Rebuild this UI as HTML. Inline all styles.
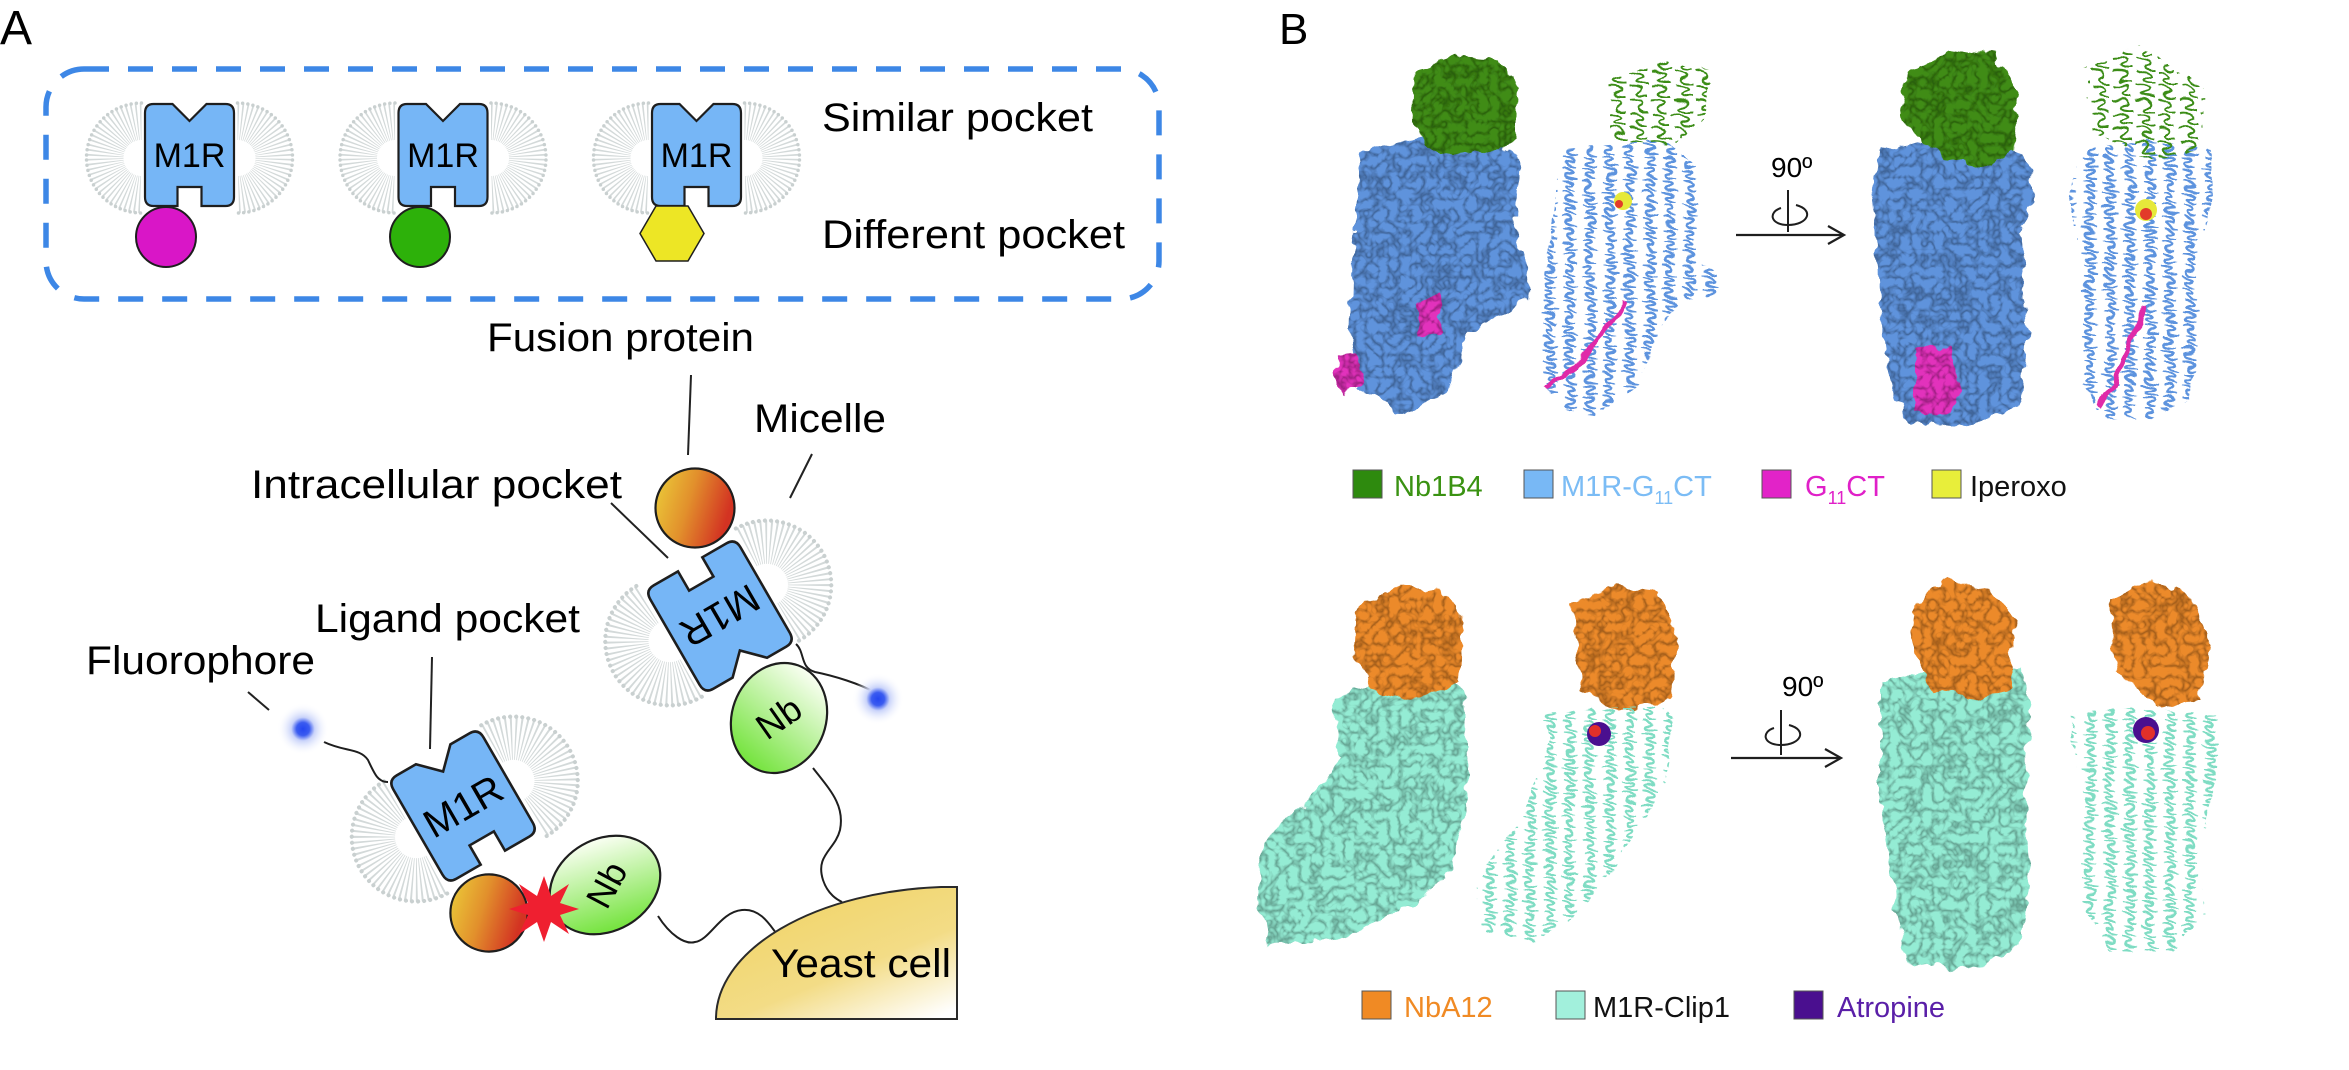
<!DOCTYPE html>
<html><head><meta charset="utf-8"><style>
html,body{margin:0;padding:0;background:#fff;}
svg{display:block;}
text{font-family:"Liberation Sans",Arial,sans-serif;}
</style></head><body>
<svg width="2349" height="1070" viewBox="0 0 2349 1070" xmlns="http://www.w3.org/2000/svg">
<defs>
  <linearGradient id="fus" x1="0" y1="0" x2="1" y2="0.3">
    <stop offset="0" stop-color="#ecd03a"/><stop offset="0.5" stop-color="#e2902c"/><stop offset="1" stop-color="#d33322"/>
  </linearGradient>
  <linearGradient id="nbg" x1="0.6" y1="0" x2="0.3" y2="1">
    <stop offset="0" stop-color="#fbfff4"/><stop offset="1" stop-color="#6fe236"/>
  </linearGradient>
  <linearGradient id="yst" x1="0.3" y1="0.2" x2="0.9" y2="1">
    <stop offset="0" stop-color="#f1d66f"/><stop offset="0.5" stop-color="#f3dc86"/><stop offset="1" stop-color="#ffffff"/>
  </linearGradient>
  <radialGradient id="glow">
    <stop offset="0" stop-color="#2446f0"/><stop offset="0.25" stop-color="#3b5cf0"/><stop offset="0.45" stop-color="#c9d3fa"/><stop offset="1" stop-color="#ffffff" stop-opacity="0"/>
  </radialGradient>
  <g id="mic">
    <path d="M-48,-33.5 A36.5 36.5 0 0 0 -48,39.5" fill="none" stroke="#d3d9d9" stroke-width="37" stroke-dasharray="1.2 2.2"/>
    <path d="M-48,-52 A55 55 0 0 0 -48,58" fill="none" stroke="#c9d0d0" stroke-width="3.5" stroke-linecap="round" stroke-dasharray="0 5.2"/>
    <path d="M48,-33.5 A36.5 36.5 0 0 1 48,39.5" fill="none" stroke="#d3d9d9" stroke-width="37" stroke-dasharray="1.2 2.2"/>
    <path d="M48,-52 A55 55 0 0 1 48,58" fill="none" stroke="#c9d0d0" stroke-width="3.5" stroke-linecap="round" stroke-dasharray="0 5.2"/>
  </g>
  <path id="m1r" d="M-36,-51 L-17,-51 L0,-34 L17,-51 L36,-51 Q44.5,-51 44.5,-42 L44.5,42 Q44.5,51 36,51 L12,51 L12,32 L-12,32 L-12,51 L-36,51 Q-44.5,51 -44.5,42 L-44.5,-42 Q-44.5,-51 -36,-51 Z" fill="#76b6f6" stroke="#1e1e1e" stroke-width="2.2"/>
  <filter id="rough" x="-10%" y="-10%" width="120%" height="120%">
    <feTurbulence type="fractalNoise" baseFrequency="0.07" numOctaves="2" seed="3" result="n"/>
    <feDisplacementMap in="SourceGraphic" in2="n" scale="14" xChannelSelector="R" yChannelSelector="G" result="d"/>
    <feTurbulence type="turbulence" baseFrequency="0.09" numOctaves="2" seed="7" result="t"/>
    <feColorMatrix in="t" type="matrix" values="0 0 0 0 0  0 0 0 0 0  0 0 0 0 0  0 0 0 -3 1.1" result="sp"/>
    <feComposite in="sp" in2="d" operator="in" result="sp2"/>
    <feComponentTransfer in="sp2" result="sp3"><feFuncA type="linear" slope="0.55"/></feComponentTransfer>
    <feMerge><feMergeNode in="d"/><feMergeNode in="sp3"/></feMerge>
  </filter>
  <filter id="rib" x="-10%" y="-10%" width="120%" height="120%">
    <feTurbulence type="fractalNoise" baseFrequency="0.05" numOctaves="2" seed="5" result="n"/>
    <feDisplacementMap in="SourceGraphic" in2="n" scale="10" xChannelSelector="R" yChannelSelector="G"/>
  </filter>
  <pattern id="coilB" width="20" height="12" patternUnits="userSpaceOnUse">
    <path d="M3,0 C15,2 16,6 10,6 C4,6 5,10 17,12" fill="none" stroke="#5d93de" stroke-width="2.6"/>
  </pattern>
  <pattern id="coilG" width="22" height="14" patternUnits="userSpaceOnUse">
    <path d="M2,2 C12,0 20,6 12,8 C5,10 10,14 20,13" fill="none" stroke="#3a8c16" stroke-width="2"/>
  </pattern>
  <pattern id="coilC" width="20" height="12" patternUnits="userSpaceOnUse">
    <path d="M3,0 C15,2 16,6 10,6 C4,6 5,10 17,12" fill="none" stroke="#7fdcc3" stroke-width="2.4"/>
  </pattern>
</defs>

<!-- PANEL A -->
<text x="0" y="44" font-size="48">A</text>
<rect x="46" y="69" width="1113" height="230" rx="38" fill="none" stroke="#3d87e6" stroke-width="5.5" stroke-dasharray="25 19"/>

<g transform="translate(189.5,155)"><use href="#mic"/><use href="#m1r"/><text x="0" y="12" font-size="34" text-anchor="middle">M1R</text></g>
<circle cx="166" cy="237" r="30" fill="#d916c7" stroke="#1e1e1e" stroke-width="2"/>
<g transform="translate(443,155)"><use href="#mic"/><use href="#m1r"/><text x="0" y="12" font-size="34" text-anchor="middle">M1R</text></g>
<circle cx="420" cy="237" r="30" fill="#2db10a" stroke="#1e1e1e" stroke-width="2"/>
<g transform="translate(696.5,155)"><use href="#mic"/><use href="#m1r"/><text x="0" y="12" font-size="34" text-anchor="middle">M1R</text></g>
<polygon points="640,233.5 656,206 688,206 704,233.5 688,261 656,261" fill="#ede625" stroke="#1e1e1e" stroke-width="1.5"/>

<text x="822" y="131" font-size="40" textLength="271" lengthAdjust="spacingAndGlyphs">Similar pocket</text>
<text x="822" y="248" font-size="40" textLength="303" lengthAdjust="spacingAndGlyphs">Different pocket</text>

<text x="487" y="351" font-size="40" textLength="267" lengthAdjust="spacingAndGlyphs">Fusion protein</text>
<line x1="691" y1="375" x2="688" y2="455" stroke="#222" stroke-width="2"/>
<text x="754" y="432" font-size="40" textLength="132" lengthAdjust="spacingAndGlyphs">Micelle</text>
<line x1="812" y1="454" x2="790" y2="498" stroke="#222" stroke-width="2"/>
<text x="251" y="498" font-size="40" textLength="371" lengthAdjust="spacingAndGlyphs">Intracellular pocket</text>
<line x1="611" y1="503" x2="668" y2="558" stroke="#222" stroke-width="2"/>
<text x="315" y="632" font-size="40" textLength="265" lengthAdjust="spacingAndGlyphs">Ligand pocket</text>
<line x1="432" y1="657" x2="430" y2="749" stroke="#222" stroke-width="2"/>
<text x="86" y="674" font-size="40" textLength="229" lengthAdjust="spacingAndGlyphs">Fluorophore</text>
<line x1="248" y1="692" x2="269" y2="710" stroke="#222" stroke-width="2"/>

<!-- top assembly -->
<g transform="translate(720,616) rotate(150) scale(1.17)"><use href="#mic"/></g>
<path d="M796,644 C805,652 800,668 815,672 C835,676 860,684 874,692" fill="none" stroke="#1e1e1e" stroke-width="2"/>
<path d="M813,768 C830,790 845,805 840,830 C835,850 815,855 823,880 C828,895 838,900 842,902" fill="none" stroke="#1e1e1e" stroke-width="2"/>
<circle cx="878" cy="699" r="26" fill="url(#glow)"/>
<g transform="translate(720,616) rotate(150) scale(1.17)"><use href="#m1r"/><text x="0" y="12" font-size="34" text-anchor="middle">M1R</text></g>
<circle cx="695" cy="508" r="39.5" fill="url(#fus)" stroke="#1e1e1e" stroke-width="2.2"/>
<g transform="translate(779,718) rotate(20)"><ellipse cx="0" cy="0" rx="47" ry="56" fill="url(#nbg)" stroke="#1e1e1e" stroke-width="2.2"/></g>
<text x="0" y="0" font-size="36" text-anchor="middle" transform="translate(779,718) rotate(-35) translate(0,12)">Nb</text>

<!-- bottom assembly -->
<g transform="translate(463,806) rotate(-30) scale(1.17)"><use href="#mic"/></g>
<path d="M324,742 C345,752 360,748 368,760 C375,775 378,782 388,782" fill="none" stroke="#1e1e1e" stroke-width="2"/>
<circle cx="303" cy="729" r="26" fill="url(#glow)"/>
<g transform="translate(463,806) rotate(-30) scale(1.17)"><use href="#m1r"/><text x="0" y="12" font-size="34" text-anchor="middle">M1R</text></g>
<path d="M658,916 C670,935 685,945 695,942 C710,940 720,912 742,910 C760,908 770,925 776,933" fill="none" stroke="#1e1e1e" stroke-width="2"/>
<circle cx="489" cy="913" r="38.6" fill="url(#fus)" stroke="#1e1e1e" stroke-width="2.2"/>
<g transform="translate(605,885) rotate(-30)"><ellipse cx="0" cy="0" rx="58" ry="46" fill="url(#nbg)" stroke="#1e1e1e" stroke-width="2.2"/></g>
<text x="0" y="0" font-size="36" text-anchor="middle" transform="translate(607,885) rotate(-62) translate(0,12)">Nb</text>
<polygon points="544,876 551,896 569,884 560,903 579,909 560,915 569,934 551,922 544,942 537,922 519,934 528,915 509,909 528,903 519,884 537,896" fill="#ef1f30"/>

<path d="M716,1019 A241 132 0 0 1 941,887 L957,887 L957,1019 Z" fill="url(#yst)" stroke="#2a2a2a" stroke-width="2"/>
<text x="771" y="977" font-size="40" textLength="180" lengthAdjust="spacingAndGlyphs">Yeast cell</text>

<!-- PANEL B -->
<text x="1279" y="44" font-size="44">B</text>

<!-- top row -->
<g filter="url(#rough)">
  <path d="M1362,150 L1420,138 L1500,140 L1520,160 L1515,230 L1530,280 L1528,300 L1490,320 L1465,340 L1450,390 L1420,405 L1395,416 L1380,395 L1360,390 L1350,330 L1352,260 L1358,200 Z" fill="#5e93dc"/>
  <path d="M1415,72 L1450,55 L1500,60 L1518,90 L1515,140 L1480,155 L1430,150 L1412,120 Z" fill="#3f8c19"/>
  <path d="M1338,355 L1358,352 L1362,385 L1345,395 L1335,380 Z M1418,300 L1440,295 L1442,330 L1420,338 Z" fill="#e231bc"/>
  <path d="M1880,150 L1930,140 L2010,142 L2030,170 L2035,200 L2020,230 L2028,330 L2020,400 L1990,420 L1940,427 L1905,420 L1890,380 L1880,300 L1872,200 Z" fill="#5e93dc"/>
  <path d="M1905,72 L1950,50 L1995,55 L2018,95 L2015,150 L1990,165 L1945,160 L1900,120 Z" fill="#3f8c19"/>
  <path d="M1915,350 L1950,345 L1960,395 L1940,418 L1915,410 Z" fill="#e231bc"/>
</g>
<g filter="url(#rib)">
  <path d="M1560,150 L1660,140 L1700,165 L1695,260 L1722,275 L1715,295 L1680,300 L1660,330 L1640,380 L1600,416 L1570,410 L1545,390 L1541,340 L1548,250 Z" fill="url(#coilB)"/>
  <path d="M1610,80 L1660,60 L1711,70 L1705,120 L1670,147 L1610,140 Z" fill="url(#coilG)"/>
  <path d="M1545,390 C1560,370 1575,380 1585,355 C1595,335 1610,330 1625,300" fill="none" stroke="#e02aa8" stroke-width="5"/>
  <path d="M2080,150 L2150,140 L2210,150 L2213,200 L2195,260 L2200,330 L2190,400 L2150,420 L2100,418 L2080,380 L2085,300 L2071,200 Z" fill="url(#coilB)"/>
  <path d="M2085,70 L2140,44 L2208,90 L2200,150 L2150,160 L2090,130 Z" fill="url(#coilG)"/>
  <path d="M2098,405 C2110,385 2120,380 2125,355 C2130,335 2140,330 2145,305" fill="none" stroke="#e02aa8" stroke-width="5"/>
</g>
<circle cx="1623" cy="201" r="9" fill="#e6e93a"/><circle cx="1619" cy="204" r="4" fill="#e23b2a"/>
<circle cx="2146" cy="210" r="11" fill="#e6e93a"/><circle cx="2146" cy="214" r="6" fill="#e23b2a"/>

<text x="1771" y="177" font-size="28">90º</text>
<line x1="1788" y1="190" x2="1788" y2="232" stroke="#1e1e1e" stroke-width="2"/>
<path d="M1796,205 C1815,210 1808,225 1788,225 C1770,225 1768,212 1781,208" fill="none" stroke="#1e1e1e" stroke-width="2"/>
<line x1="1736" y1="235" x2="1843" y2="235" stroke="#1e1e1e" stroke-width="2.2"/>
<path d="M1828,226 L1844,235 L1828,244" fill="none" stroke="#1e1e1e" stroke-width="2.2"/>

<rect x="1353" y="470" width="29" height="28" fill="#2e8a0e" stroke="#555" stroke-width="1"/>
<text x="1394" y="496" font-size="29" fill="#3a9212">Nb1B4</text>
<rect x="1524" y="470" width="29" height="28" fill="#78b8f5" stroke="#555" stroke-width="1"/>
<text x="1561" y="496" font-size="29" fill="#7bbcf5">M1R-G<tspan font-size="18" dy="8">11</tspan><tspan dy="-8">CT</tspan></text>
<rect x="1762" y="470" width="29" height="28" fill="#e223c8" stroke="#555" stroke-width="1"/>
<text x="1805" y="496" font-size="29" fill="#e020c8">G<tspan font-size="18" dy="8">11</tspan><tspan dy="-8">CT</tspan></text>
<rect x="1932" y="470" width="29" height="28" fill="#e8ee3a" stroke="#555" stroke-width="1"/>
<text x="1970" y="496" font-size="29" fill="#111">Iperoxo</text>

<!-- bottom row -->
<g filter="url(#rough)">
  <path d="M1380,680 L1440,670 L1465,690 L1467,800 L1450,870 L1420,900 L1340,940 L1270,945 L1257,900 L1265,840 L1310,800 L1340,760 L1335,700 Z" fill="#94ecd4"/>
  <path d="M1355,612 L1395,585 L1440,590 L1464,620 L1460,680 L1420,700 L1370,690 L1353,650 Z" fill="#ec8a2a"/>
  <path d="M1880,680 L1940,670 L2020,668 L2030,700 L2025,800 L2030,880 L2020,940 L1990,965 L1950,969 L1905,960 L1895,900 L1880,800 Z" fill="#94ecd4"/>
  <path d="M1915,600 L1950,580 L1990,590 L2015,620 L2010,690 L1975,700 L1930,690 L1910,640 Z" fill="#ec8a2a"/>
  <path d="M1572,605 L1610,585 L1660,592 L1677,640 L1670,700 L1620,710 L1580,690 Z" fill="#ec8a2a"/>
  <path d="M2110,600 L2150,580 L2190,595 L2210,640 L2200,700 L2160,706 L2115,670 Z" fill="#ec8a2a"/>
</g>
<g filter="url(#rib)">
  <path d="M1540,712 L1660,705 L1674,720 L1665,780 L1640,830 L1590,900 L1540,942 L1480,930 L1475,880 L1520,820 L1550,740 Z" fill="url(#coilC)"/>
  <path d="M2075,712 L2150,708 L2221,715 L2215,780 L2200,850 L2205,920 L2170,952 L2110,950 L2080,900 L2085,800 L2071,740 Z" fill="url(#coilC)"/>
</g>
<circle cx="1599" cy="734" r="12" fill="#4a0f8f"/><circle cx="1595" cy="731" r="6" fill="#e2302a"/>
<circle cx="2146" cy="730" r="13" fill="#4a0f8f"/><circle cx="2148" cy="733" r="7" fill="#e2302a"/>

<text x="1782" y="696" font-size="28">90º</text>
<line x1="1781" y1="710" x2="1781" y2="755" stroke="#1e1e1e" stroke-width="2"/>
<path d="M1789,725 C1808,730 1801,745 1781,745 C1763,745 1761,732 1774,728" fill="none" stroke="#1e1e1e" stroke-width="2"/>
<line x1="1731" y1="758" x2="1840" y2="758" stroke="#1e1e1e" stroke-width="2.2"/>
<path d="M1825,749 L1841,758 L1825,767" fill="none" stroke="#1e1e1e" stroke-width="2.2"/>

<rect x="1362" y="991" width="29" height="28" fill="#f08a24" stroke="#555" stroke-width="1"/>
<text x="1404" y="1017" font-size="29" fill="#f08a24">NbA12</text>
<rect x="1556" y="991" width="29" height="28" fill="#a2f0dc" stroke="#555" stroke-width="1"/>
<text x="1593" y="1017" font-size="29" fill="#111">M1R-Clip1</text>
<rect x="1794" y="991" width="29" height="28" fill="#4a0f8f" stroke="#555" stroke-width="1"/>
<text x="1837" y="1017" font-size="29" fill="#5a1fa8">Atropine</text>
</svg>
</body></html>
